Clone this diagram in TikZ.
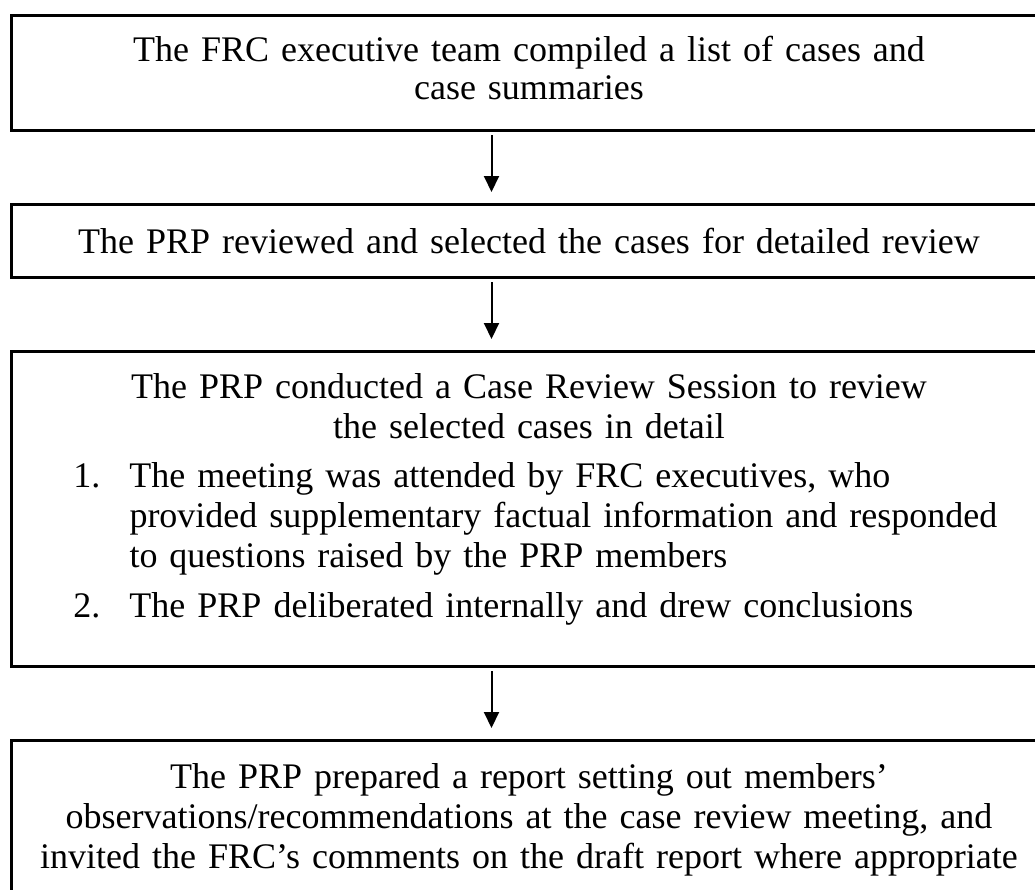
\documentclass[tikz,border=0pt]{standalone}
\usepackage{fontspec}
\setmainfont{Liberation Serif}
\usetikzlibrary{arrows.meta,positioning}
\tikzset{
  stage/.style={draw, line width=3pt, inner xsep=0pt, inner ysep=0pt, text width=1035pt, align=center, anchor=north west, font=\fontsize{36}{40}\selectfont},
  flow/.style={line width=2pt, -{Triangle[width=15pt,length=16pt]}}
}
\newcommand\padbelow[1]{\par\vspace{#1}\hrule height 0pt width 0pt}
\begin{document}
\begin{tikzpicture}[x=1pt,y=1pt]
\useasboundingbox (0,0) rectangle (1035,-889);
\node[stage, minimum height=115pt] (list) at (10,-14) {The FRC executive team compiled a list of cases and\\[-3pt]case summaries\padbelow{10pt}}; % Stage.list
\node[stage, minimum height=73pt] (select) at (10,-203) {The PRP reviewed and selected the cases for detailed review}; % Stage.select
\node[stage, align=left, minimum height=315pt] (session) at (10,-350) {%
{\centering The PRP conducted a Case Review Session to review\\the selected cases in detail\par}%
\vspace{9pt}%
\hspace*{62pt}\makebox[56pt][l]{1.}The meeting was attended by FRC executives, who\\
\hspace*{118pt}provided supplementary factual information and responded\\
\hspace*{118pt}to questions raised by the PRP members\par
\vspace{10pt}%
\hspace*{62pt}\makebox[56pt][l]{2.}The PRP deliberated internally and drew conclusions\padbelow{20pt}}; % Stage.session
\node[stage, minimum height=158pt] (report) at (10,-739) {The PRP prepared a report setting out members'\\observations/recommendations at the case review meeting, and\\invited the FRC's comments on the draft report where appropriate}; % Stage.report
\draw[flow] ([xshift=-37.5pt,yshift=-3pt]list.south) -- ([xshift=-37.5pt,yshift=11pt]select.north); % Flow.list
\draw[flow] ([xshift=-37.5pt,yshift=-3pt]select.south) -- ([xshift=-37.5pt,yshift=11pt]session.north); % Flow.select
\draw[flow] ([xshift=-37.5pt,yshift=-3pt]session.south) -- ([xshift=-37.5pt,yshift=11pt]report.north); % Flow.session
\end{tikzpicture}
\end{document}
